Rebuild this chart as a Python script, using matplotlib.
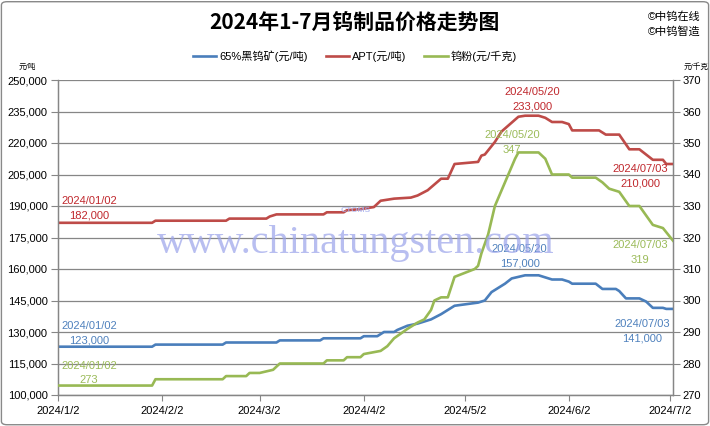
import matplotlib
matplotlib.use("Agg")
import matplotlib.pyplot as plt
import matplotlib.dates as mdates
import matplotlib.ticker as mticker
import numpy as np
import pandas as pd
from matplotlib.lines import Line2D
from matplotlib.patches import FancyBboxPatch

plt.rcParams['font.family'] = ['Liberation Sans', 'Noto Sans CJK SC', 'DejaVu Sans']

# --- APT (元/吨), left axis ---
apt_dates = ["2024-01-02", "2024-01-30", "2024-01-31", "2024-02-21", "2024-02-22", "2024-03-04",
             "2024-03-05", "2024-03-07", "2024-03-21", "2024-03-22", "2024-03-27", "2024-03-28",
             "2024-04-01", "2024-04-05", "2024-04-07", "2024-04-11", "2024-04-16", "2024-04-18",
             "2024-04-21", "2024-04-25", "2024-04-27", "2024-04-29", "2024-05-06", "2024-05-07",
             "2024-05-08", "2024-05-11", "2024-05-13", "2024-05-18", "2024-05-20", "2024-05-24",
             "2024-05-26", "2024-05-28", "2024-05-31", "2024-06-02", "2024-06-03", "2024-06-11",
             "2024-06-13", "2024-06-17", "2024-06-20", "2024-06-23", "2024-06-27", "2024-06-30",
             "2024-07-01", "2024-07-03"]
apt_prices = [182000, 182000, 183000, 183000, 184000, 184000,
              185000, 186000, 186000, 187000, 187000, 188000,
              188500, 189500, 192500, 193500, 194000, 195000,
              197500, 203000, 203000, 210000, 211000, 214000,
              214500, 220500, 225500, 232500, 233000, 233000,
              232000, 230000, 230000, 229000, 226000, 226000,
              224000, 224000, 217000, 217000, 212000, 212000,
              210000, 210000]

# --- 65%黑钨矿 (元/吨), left axis ---
ore_dates = ["2024-01-02", "2024-01-30", "2024-01-31", "2024-02-20", "2024-02-21", "2024-03-07",
             "2024-03-08", "2024-03-20", "2024-03-21", "2024-04-01", "2024-04-02", "2024-04-06",
             "2024-04-08", "2024-04-11", "2024-04-12", "2024-04-15", "2024-04-18", "2024-04-22",
             "2024-04-25", "2024-04-27", "2024-04-29", "2024-05-06", "2024-05-08", "2024-05-10",
             "2024-05-12", "2024-05-14", "2024-05-16", "2024-05-20", "2024-05-24", "2024-05-28",
             "2024-05-31", "2024-06-02", "2024-06-03", "2024-06-10", "2024-06-12", "2024-06-16",
             "2024-06-17", "2024-06-19", "2024-06-23", "2024-06-25", "2024-06-27", "2024-06-30",
             "2024-07-01", "2024-07-03"]
ore_prices = [123000, 123000, 124000, 124000, 125000, 125000,
              126000, 126000, 127000, 127000, 128000, 128000,
              130000, 130000, 131000, 133000, 134000, 136000,
              138500, 140500, 142500, 144000, 145000, 149000,
              151000, 153000, 155500, 157000, 157000, 155000,
              155000, 154000, 153000, 153000, 150500, 150500,
              149500, 146000, 146000, 144500, 141500, 141500,
              141000, 141000]

# --- 钨粉 (元/千克), right axis ---
powder_dates = ["2024-01-02", "2024-01-30", "2024-01-31", "2024-02-20", "2024-02-21", "2024-02-27",
                "2024-02-28", "2024-03-02", "2024-03-06", "2024-03-07", "2024-03-08", "2024-03-21",
                "2024-03-22", "2024-03-27", "2024-03-28", "2024-04-01", "2024-04-02", "2024-04-07",
                "2024-04-09", "2024-04-11", "2024-04-13", "2024-04-15", "2024-04-18", "2024-04-20",
                "2024-04-22", "2024-04-23", "2024-04-25", "2024-04-27", "2024-04-29", "2024-05-05",
                "2024-05-06", "2024-05-07", "2024-05-09", "2024-05-11", "2024-05-13", "2024-05-14",
                "2024-05-15", "2024-05-17", "2024-05-18", "2024-05-20", "2024-05-24", "2024-05-26",
                "2024-05-28", "2024-06-02", "2024-06-03", "2024-06-10", "2024-06-12", "2024-06-14",
                "2024-06-17", "2024-06-18", "2024-06-20", "2024-06-23", "2024-06-25", "2024-06-27",
                "2024-06-30", "2024-07-03"]
powder_prices = [273, 273, 275, 275, 276, 276,
                 277, 277, 278, 279, 280, 280,
                 281, 281, 282, 282, 283, 284,
                 285.5, 288, 289.5, 291, 293, 294,
                 297, 300, 301, 301, 307.5, 310,
                 311, 315, 321, 330, 335, 337.5,
                 340, 345, 347, 347, 347, 345,
                 340, 340, 339, 339, 337.5, 335.5,
                 334.5, 333, 330, 330, 327, 324,
                 323, 319]

labels = ["65%黑钨矿(元/吨)", "APT(元/吨)", "钨粉(元/千克)"]
colors = ["#4A7EBB", "#BE4B48", "#98B954"]
text_colors = ["#4F81BD", "#C0282D", "#9BBB59"]

apt_dates = pd.to_datetime(apt_dates)
ore_dates = pd.to_datetime(ore_dates)
powder_dates = pd.to_datetime(powder_dates)

W, H = 710, 426
fig = plt.figure(figsize=(W / 100, H / 100), dpi=100)
ax = fig.add_axes([58 / W, 1 - 395 / H, (673 - 58) / W, (395 - 80) / H])
ax2 = ax.twinx()

gray = "#868686"
ax.plot(ore_dates, ore_prices, color=colors[0], lw=1.9, zorder=3)
ax.plot(apt_dates, apt_prices, color=colors[1], lw=1.9, zorder=3)
ax2.plot(powder_dates, powder_prices, color=colors[2], lw=1.9, zorder=3)

ax.set_xlim(pd.Timestamp("2024-01-02"), pd.Timestamp("2024-07-03"))
ax.set_ylim(100000, 250000)
ax2.set_ylim(270, 370)
ax.set_yticks(np.arange(100000, 250001, 15000))
ax.yaxis.set_major_formatter(mticker.FuncFormatter(lambda v, p: f"{int(v):,}"))
ax2.set_yticks(np.arange(270, 371, 10))
ax2.yaxis.set_major_formatter(mticker.FuncFormatter(lambda v, p: f"{int(v)}"))

xticks = pd.to_datetime(["2024-01-02", "2024-02-02", "2024-03-02", "2024-04-02",
                         "2024-05-02", "2024-06-02", "2024-07-02"])
ax.set_xticks(xticks)
ax.xaxis.set_major_formatter(mdates.DateFormatter("%Y/%-m/%-d"))

ax.yaxis.grid(True, color=gray, lw=0.9)
ax.set_axisbelow(True)
for a in (ax, ax2):
    a.spines["top"].set_visible(False)
    for s in ("left", "right", "bottom"):
        a.spines[s].set_color(gray)
        a.spines[s].set_linewidth(0.9)
ax.tick_params(axis="y", direction="out", length=5, color=gray, labelsize=8, pad=2.5)
ax.tick_params(axis="x", direction="out", length=4, color=gray, labelsize=8, pad=4)
ax2.tick_params(axis="y", direction="out", length=5, color=gray, labelsize=8, pad=2)

# two-line labels (date, value) next to a point; offsets in pixels
def note(a, d, v, date_txt, val_txt, col, dx, dy1, dy2):
    for txt, dy in ((date_txt, dy1), (val_txt, dy2)):
        a.annotate(txt, xy=(pd.Timestamp(d), v), xytext=(dx * 0.72, dy * 0.72),
                   textcoords="offset points", ha="center", va="center",
                   color=col, fontsize=8, zorder=5)

note(ax, "2024-01-02", apt_prices[0], "2024/01/02", "182,000", text_colors[1], 31, 22, 7)
note(ax, "2024-01-02", ore_prices[0], "2024/01/02", "123,000", text_colors[0], 31, 21, 6)
note(ax2, "2024-01-02", powder_prices[0], "2024/01/02", "273", text_colors[2], 31, 20, 5.5)
note(ax, "2024-05-20", 233000, "2024/05/20", "233,000", text_colors[1], 7, 23.5, 9)
note(ax2, "2024-05-20", 347, "2024/05/20", "347", text_colors[2], -13, 17, 2)
note(ax, "2024-05-20", 157000, "2024/05/20", "157,000", text_colors[0], -5.5, 26, 12)
note(ax, "2024-07-03", apt_prices[-1], "2024/07/03", "210,000", text_colors[1], -33, -5, -19)
note(ax2, "2024-07-03", powder_prices[-1], "2024/07/03", "319", text_colors[2], -33, -4.5, -19.5)
note(ax, "2024-07-03", ore_prices[-1], "2024/07/03", "141,000", text_colors[0], -31, -15.5, -30)

# watermark
fig.text(356 / W, 1 - 243 / H, "www.chinatungsten.com", family="Liberation Serif",
         fontsize=29, color="#9aa3ea", alpha=0.7, ha="center", va="center", zorder=1)
fig.text(356 / W, 1 - 211 / H, "CTOMS", fontsize=6, fontweight="bold", color="#a7b0ee",
         ha="center", va="center", alpha=0.8)

# title, legend, units
fig.text(354 / W, 1 - 22 / H, "2024年1-7月钨制品价格走势图", family=["Noto Sans CJK SC"],
         fontsize=15, fontweight="bold", ha="center", va="center")
fig.text(648 / W, 1 - 17 / H, "©中钨在线", fontsize=8, ha="left", va="center")
fig.text(648 / W, 1 - 31 / H, "©中钨智造", fontsize=8, ha="left", va="center")
fig.text(27 / W, 1 - 67 / H, "元/吨", fontsize=5.5, ha="center", va="center")
fig.text(696 / W, 1 - 67 / H, "元/千克", fontsize=5.5, ha="center", va="center")

handles = [Line2D([], [], color=c, lw=1.9) for c in colors]
fig.legend(handles, labels, loc="center", bbox_to_anchor=(355 / W, 1 - 56 / H), ncol=3,
           frameon=False, fontsize=8, handlelength=2.1, handletextpad=0.3, columnspacing=1.6)

fig.patches.append(FancyBboxPatch((0.002, 0.003), 0.996, 0.993, boxstyle="round,pad=0,rounding_size=0.008",
                                  transform=fig.transFigure, fill=False, edgecolor="#898989", lw=1))

fig.savefig("out.png", dpi=100)
